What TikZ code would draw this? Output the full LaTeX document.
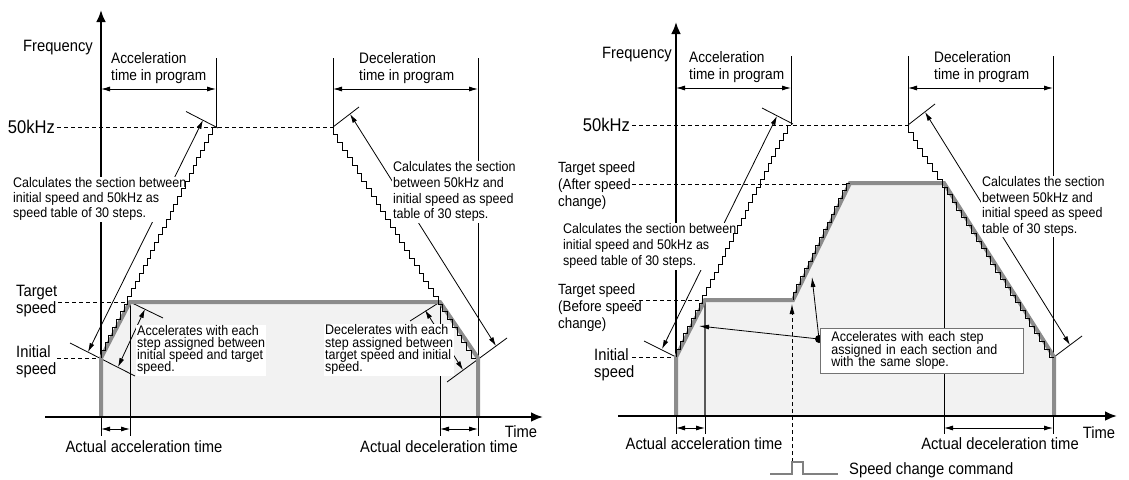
\documentclass[tikz,border=0pt]{standalone}
\usepackage{fontspec}
\setmainfont{Liberation Sans}[FakeStretch=0.9]
\usetikzlibrary{arrows.meta}
\definecolor{fillgray}{RGB}{242,242,242}
\definecolor{profgray}{RGB}{140,140,140}
\newcommand\fszBig{\fontsize{16.4}{17}\selectfont\lineskiplimit=-50pt}
\newcommand\fszKhz{\fontsize{18.4}{21}\selectfont}
\newcommand\fszDim{\fontsize{15.2}{16.8}\selectfont\lineskiplimit=-50pt}
\newcommand\fszTgt{\fontsize{14.8}{17}\selectfont\lineskiplimit=-50pt}
\newcommand\fnote[1]{\fontsize{13.9}{#1}\selectfont\lineskiplimit=-50pt\lineskip=0pt}
\newcommand\mystairs[5]{\draw[stairs] (#1,#2) \foreach \k in {1,...,#5} { -- ++(0,#4) -- ++(#3,0) };}
\begin{document}
\begin{tikzpicture}[x=1pt,y=-1pt,
  every node/.style={inner sep=1pt},
  ax/.style={line width=2.8pt,-{Latex[length=12pt,width=10pt]}},
  thinln/.style={line width=0.8pt},
  dsh/.style={line width=0.8pt,dash pattern=on 4pt off 3pt},
  prof/.style={line width=4pt,draw=profgray,line join=miter},
  stairs/.style={line width=0.65pt},
  dimarr/.style={line width=0.8pt,{Latex[length=9pt,width=5pt]}-{Latex[length=9pt,width=5pt]}},
  ptr/.style={line width=0.8pt,-{Latex[length=10pt,width=5pt]}},
  note/.style={fill=white,align=left,anchor=north west,inner sep=1pt},
  lab/.style={font=\fszBig},
  labml/.style={font=\fszBig,align=left,anchor=north west},
  khz/.style={font=\fszKhz,anchor=east},
  dimlab/.style={font=\fszDim,align=left,anchor=north west},
  tgt/.style={font=\fszTgt,align=left,anchor=north west}
]
\useasboundingbox (0,0) rectangle (1129,479);

% ---------- fills ----------
\fill[fillgray] (101,416)--(101,358)--(130,302)--(440,302)--(478,358)--(478,416)--cycle;
\fill[fillgray] (676,416)--(676,357)--(705,300)--(793,300)--(850,183)--(944,183)--(1054,357)--(1054,416)--cycle;

% ---------- key coordinates ----------
\coordinate (Lo) at (101,416);
\coordinate (Lini) at (101,358);
\coordinate (Ltgt) at (130,302);
\coordinate (Ltop) at (216,127);
\coordinate (Ldtop) at (333,127);
\coordinate (Ldtgt) at (440,302);
\coordinate (Ldend) at (478,358);
\coordinate (Ro) at (676,416);
\coordinate (Rini) at (676,357);
\coordinate (Rtgt) at (705,300);
\coordinate (Rtop) at (791,125);
\coordinate (Rdtop) at (908,125);
\coordinate (Rdtgt) at (944,183);
\coordinate (Rdend) at (1054,357);

% ---------- dashed guides ----------
\draw[dsh] (57,127)--(Ldtop);
\draw[dsh] (58,302)--(Ltgt);
\draw[dsh] (57,358)--(Lini);
\draw[dsh] (632,125)--(Rdtop);
\draw[dsh] (632,184)--(850,184);
\draw[dsh] (632,300)--(Rtgt);
\draw[dsh] (632,357)--(Rini);

% ---------- y axes ----------
\draw[ax] (101,416)--(101,10);
\draw[ax] (676,416)--(676,22);

% ---------- thin lines left ----------
\draw[thinln] (216,58)--(Ltop);
\draw[thinln] (333,58)--(Ldtop);
\draw[thinln] (478,58)--(478,436);
\draw[thinln] (101,417)--(101,436);
\draw[thinln] (Ltgt)--(130,436);
\draw[thinln] (Ldtgt)--(440,436);
\draw[thinln] (186,111.5)--(218,128);
\draw[thinln] (70,343)--(135,376);
\draw[thinln] (Ltgt)--(163,318);
\draw[thinln] (Ldtop)--(359,107);
\draw[thinln] (447,382)--(507,338);
\draw[thinln] (Ldtgt)--(410,321);

% ---------- thin lines right ----------
\draw[thinln] (791,56)--(Rtop);
\draw[thinln] (908,56)--(Rdtop);
\draw[thinln] (1053,56)--(1053,434);
\draw[thinln] (676,416)--(676,434);
\draw[line width=1.6pt,draw=black!65] (Rtgt)--(705,416);
\draw[thinln] (705,416)--(705,434);
\draw[thinln] (Rdtgt)--(944,434);
\draw[thinln] (762,108)--(793,124);
\draw[thinln] (644,341)--(677,357.5);
\draw[thinln] (Rdtop)--(935,104);
\draw[thinln] (Rdend)--(1082,336);

% ---------- arrows left ----------
\draw[dimarr] (101,89)--(216,89);
\draw[dimarr] (333,89)--(478,89);
\draw[dimarr] (101,429)--(130,429);
\draw[dimarr] (440,429)--(478,429);
\draw[dimarr] (88,352)--(203,120);
\draw[dimarr] (118,367)--(145,309);
\draw[dimarr] (350,114)--(496,346);
\draw[dimarr] (425,310)--(463,370);

% ---------- arrows right ----------
\draw[dimarr] (676,88)--(791,88);
\draw[dimarr] (908,88)--(1053,88);
\draw[dimarr] (676,428)--(705,428);
\draw[dimarr] (944,428)--(1053,428);
\draw[dimarr] (662,349)--(777,116);
\draw[dimarr] (925,112)--(1070,345);
\coordinate (dot) at (819,339);
\draw[ptr] (dot)--(699,326);
\draw[ptr] (dot)--(812,277);
\fill (dot) circle (4);
\coordinate (pulseA) at (792,462);
\draw[ptr,dsh] (pulseA)--(792,304);
\draw[gray,line width=1.5pt] (770,474)--(792,474)--(pulseA)--(803,462)--(803,474)--(838,474);

% ---------- text left ----------
\node[lab] (freqL) at (58,48) {Frequency};
\node[khz] (khzL) at (56,127) {50kHz};
\node[labml] (tgtL) at (15,284) {Target\\speed};
\node[labml] (iniL) at (15,344) {Initial\\speed};
\node[dimlab] (accL) at (110,51) {Acceleration\\time in program};
\node[dimlab] (decL) at (358,51) {Deceleration\\time in program};
\node[note,font={\fnote{15}}] (calcL) at (12,176.5) {Calculates the section between\\initial speed and 50kHz as\\speed table of 30 steps.};
\node[note,font={\fnote{12}}] (accInL) at (136,324.5) {Accelerates with each\\step assigned between\\initial speed and target\\speed.};
\node[note,font={\fnote{15.7}}] (calcDL) at (392,160.5) {Calculates the section\\between 50kHz and\\initial speed as speed\\table of 30 steps.};
\node[note,font={\fnote{12.3}}] (decInL) at (324,323.5) {Decelerates with each\\step assigned between\\target speed and initial\\speed.};
\node[lab] (aatL) at (144,447) {Actual acceleration time};
\node[lab] (adtL) at (439,447) {Actual deceleration time};
\node[lab] (timeL) at (521,432) {Time};

% ---------- text right ----------
\node[lab] (freqR) at (637,55) {Frequency};
\node[khz] (khzR) at (631,125) {50kHz};
\node[tgt] (tgtAR) at (557,161) {Target speed\\(After speed\\change)};
\node[tgt] (tgtBR) at (557,283) {Target speed\\(Before speed\\change)};
\node[labml] (iniR) at (593,347.5) {Initial\\speed};
\node[dimlab] (accR) at (688,50) {Acceleration\\time in program};
\node[dimlab] (decR) at (933,50) {Deceleration\\time in program};
\node[note,font={\fnote{16}}] (calcR) at (562,222.5) {Calculates the section between\\initial speed and 50kHz as\\speed table of 30 steps.};
\node[note,font={\fnote{15.5}}] (calcDR) at (981,175.5) {Calculates the section\\between 50kHz and\\initial speed as speed\\table of 30 steps.};
\node[draw=black!55,line width=0.8pt,fill=white,anchor=north west,align=left,text width=181pt,inner xsep=11pt,inner ysep=3.5pt,font={\fnote{12.5}}] (callout) at (820,328) {Accelerates with each step\\assigned in each section and\\with the same slope.};
\node[lab] (aatR) at (704,444) {Actual acceleration time};
\node[lab] (adtR) at (1000,444) {Actual deceleration time};
\node[lab] (timeR) at (1099,433) {Time};
\node[lab,anchor=west] (scc) at (848,470) {Speed change command};

% ---------- profiles ----------
\draw[prof] (Lo)--(Lini)--(Ltgt)--(Ldtgt)--(Ldend)--(478,416);
\draw[prof] (Ro)--(Rini)--(Rtgt)--(793,300)--(850,183)--(Rdtgt)--(Rdend)--(1054,416);

% ---------- staircases ----------
\mystairs{101}{358}{3.83}{-7.7}{30}
\mystairs{333}{127}{4.77}{7.7}{30}
\mystairs{676}{357}{3.83}{-7.73}{30}
\mystairs{793}{300}{3.8}{-7.8}{15}
\mystairs{908}{125}{4.87}{7.73}{30}

% ---------- x axes ----------
\draw[ax,line width=2.4pt] (45,417)--(543,417);
\draw[ax,line width=2.4pt] (618,416)--(1117,416);
\end{tikzpicture}
\end{document}
